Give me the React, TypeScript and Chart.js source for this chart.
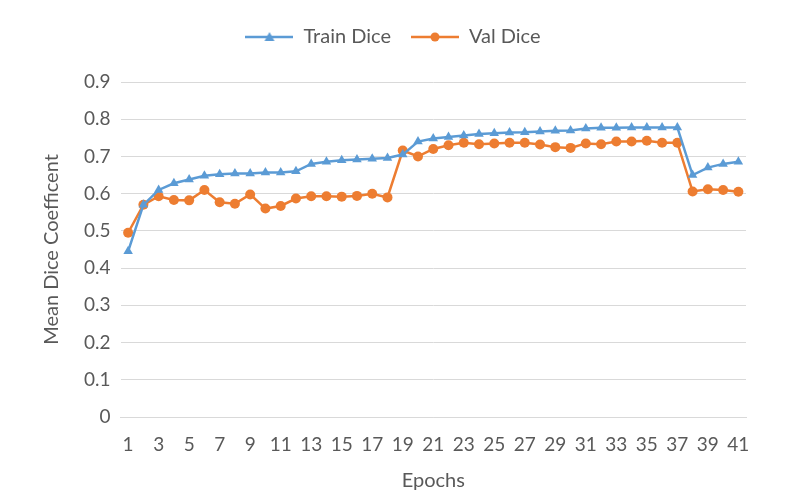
import { useRef, useEffect } from 'react';
import Chart from 'chart.js/auto';

const epochs = Array.from({ length: 41 }, (_, i) => String(i + 1));

const trainDice = [
  0.445, 0.57, 0.61, 0.628, 0.638, 0.648, 0.652, 0.654, 0.654, 0.657,
  0.657, 0.66, 0.68, 0.686, 0.69, 0.692, 0.694, 0.696, 0.705, 0.74,
  0.748, 0.752, 0.756, 0.76, 0.762, 0.764, 0.765, 0.767, 0.769, 0.77,
  0.775, 0.777, 0.777, 0.778, 0.778, 0.778, 0.778, 0.65, 0.67, 0.68, 0.686,
];

const valDice = [
  0.495, 0.57, 0.593, 0.583, 0.582, 0.61, 0.577, 0.573, 0.598, 0.56,
  0.567, 0.587, 0.593, 0.593, 0.592, 0.594, 0.6, 0.59, 0.716, 0.7,
  0.72, 0.73, 0.737, 0.733, 0.735, 0.737, 0.737, 0.732, 0.725, 0.723,
  0.735, 0.733, 0.74, 0.74, 0.742, 0.737, 0.737, 0.606, 0.612, 0.61, 0.605,
];

const BLUE = '#5B9BD5';
const ORANGE = '#ED7D31';
const TEXT = '#595959';
const FONT = 'Lato, "Open Sans", sans-serif';

// small line+marker swatch for the legend, Excel style
function makeSwatch(color: string, marker: 'triangle' | 'circle') {
  const c = document.createElement('canvas');
  c.width = 48;
  c.height = 12;
  const ctx = c.getContext('2d');
  if (!ctx) return c;
  ctx.strokeStyle = color;
  ctx.lineWidth = 2.5;
  ctx.beginPath();
  ctx.moveTo(0, 6);
  ctx.lineTo(48, 6);
  ctx.stroke();
  ctx.fillStyle = color;
  ctx.beginPath();
  if (marker === 'circle') {
    ctx.arc(24, 6, 4.5, 0, Math.PI * 2);
  } else {
    ctx.moveTo(24, 1);
    ctx.lineTo(29, 10);
    ctx.lineTo(19, 10);
    ctx.closePath();
  }
  ctx.fill();
  return c;
}

// extra room under the legend
const legendGap = {
  id: 'legendGap',
  beforeInit(chart: any) {
    const origFit = chart.legend.fit;
    chart.legend.fit = function fit() {
      origFit.bind(chart.legend)();
      this.height += 25;
    };
  },
};

const DiceChart: React.FC = () => {
  const canvasRef = useRef<HTMLCanvasElement | null>(null);
  const chartRef = useRef<Chart | null>(null);

  useEffect(() => {
    if (!canvasRef.current) return;
    if (chartRef.current) chartRef.current.destroy();
    const ctx = canvasRef.current.getContext('2d');
    if (!ctx) return;

    const swatches = [makeSwatch(BLUE, 'triangle'), makeSwatch(ORANGE, 'circle')];

    chartRef.current = new Chart(ctx, {
      type: 'line',
      plugins: [legendGap],
      data: {
        labels: epochs,
        datasets: [
          {
            label: 'Train Dice',
            data: trainDice,
            borderColor: BLUE,
            backgroundColor: BLUE,
            borderWidth: 2.5,
            pointStyle: 'triangle',
            pointRadius: 5.5,
            pointBorderWidth: 0,
          },
          {
            label: 'Val Dice',
            data: valDice,
            borderColor: ORANGE,
            backgroundColor: ORANGE,
            borderWidth: 2.5,
            pointStyle: 'circle',
            pointRadius: 5,
            pointBorderWidth: 0,
          },
        ],
      },
      options: {
        animation: false,
        responsive: false,
        layout: { padding: { left: 40, right: 54, top: 7, bottom: 10 } },
        plugins: {
          tooltip: { enabled: false },
          legend: {
            position: 'top',
            labels: {
              usePointStyle: true,
              pointStyleWidth: 48,
              padding: 20,
              color: TEXT,
              font: { family: FONT, size: 20 },
              generateLabels: (chart) =>
                chart.data.datasets.map((ds, i) => ({
                  text: ds.label as string,
                  pointStyle: swatches[i],
                  fillStyle: 'transparent',
                  strokeStyle: 'transparent',
                  lineWidth: 0,
                  fontColor: TEXT,
                  datasetIndex: i,
                  hidden: false,
                })),
            },
          },
        },
        scales: {
          x: {
            offset: true,
            grid: { display: false, drawTicks: false },
            border: { display: true, color: '#D9D9D9', width: 1 },
            ticks: {
              autoSkip: false,
              maxRotation: 0,
              padding: 16,
              color: TEXT,
              font: { family: FONT, size: 19 },
              callback: (_v, i) => (i % 2 === 0 ? epochs[i] : ''),
            },
            title: {
              display: true,
              text: 'Epochs',
              color: TEXT,
              font: { family: FONT, size: 20 },
              padding: { top: 8, bottom: 0 },
            },
            afterFit: (scale) => {
              scale.height = 76;
            },
          },
          y: {
            min: 0,
            max: 0.9,
            grid: { color: '#D9D9D9', lineWidth: 1, drawTicks: false },
            border: { display: false },
            ticks: {
              stepSize: 0.1,
              padding: 10,
              color: TEXT,
              font: { family: FONT, size: 19 },
              callback: (v) => String(Math.round(Number(v) * 10) / 10),
            },
            title: {
              display: true,
              text: 'Mean Dice Coefficent',
              color: TEXT,
              font: { family: FONT, size: 20 },
              padding: { top: 0, bottom: 8 },
            },
            afterFit: (scale) => {
              scale.width = 80.5;
            },
          },
        },
      },
    });

    return () => {
      if (chartRef.current) {
        chartRef.current.destroy();
        chartRef.current = null;
      }
    };
  }, []);

  return <canvas ref={canvasRef} width={800} height={503} style={{ display: 'block' }}></canvas>;
};

export default function App() {
  return (
    <div style={{ position: 'fixed', left: 0, top: 0, width: 800, height: 503, background: '#fff' }}>
      <DiceChart />
    </div>
  );
}
